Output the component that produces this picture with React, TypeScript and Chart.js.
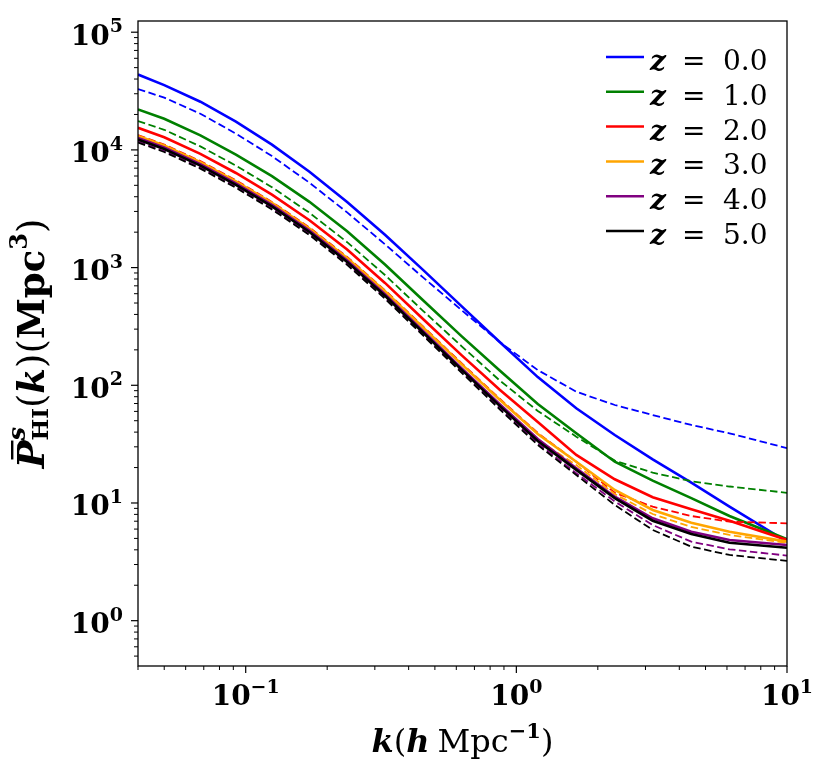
// HI redshift-space power spectrum, log-log, six redshifts (solid) + dashed counterparts
import { useEffect, useRef } from 'react';
import { Chart, registerables } from 'chart.js';

Chart.register(...registerables);

// k in h/Mpc
const kValues = [0.04, 0.05, 0.068, 0.092, 0.125, 0.172, 0.237, 0.327, 0.452, 0.627, 0.868, 1.2, 1.665, 2.31, 3.19, 4.43, 6.13, 10];

const redshifts = ['0.0', '1.0', '2.0', '3.0', '4.0', '5.0'];
const colors = ['#0000ff', '#008000', '#ff0000', '#ffa500', '#800080', '#000000'];

// P(k) in Mpc^3, solid lines
const pz0Solid = [43700, 35520, 25670, 17390, 11090, 6528, 3615, 1900, 956, 471, 233, 117.4, 63.8, 37.8, 23.5, 14.9, 9.3, 4.69];
const pz1Solid = [22100, 18380, 13280, 9120, 5976, 3622, 2038, 1062, 527.6, 261.8, 133.6, 69.4, 39.1, 22.4, 15.5, 11.0, 7.75, 4.92];
const pz2Solid = [15400, 12820, 9266, 6364, 4172, 2527, 1422, 741, 366, 180.5, 91.6, 48.8, 25.6, 15.9, 11.2, 8.84, 7.07, 4.85];
const pz3Solid = [13120, 10900, 7876, 5411, 3545, 2149, 1209, 630, 310, 151.4, 75.3, 38.6, 22.4, 12.9, 8.72, 6.8, 5.7, 4.69];
const pz4Solid = [12620, 10480, 7574, 5203, 3409, 2066, 1151, 594, 289.5, 140, 68.95, 35.0, 19.7, 11.3, 7.41, 5.7, 4.85, 4.4];
const pz5Solid = [12250, 10180, 7355, 5053, 3310, 2007, 1118, 576.9, 281.1, 135.9, 66.9, 33.65, 19.1, 11.0, 7.07, 5.45, 4.6, 4.17];

// dashed lines
const pz0Dashed = [32900, 27820, 20300, 13750, 8860, 5264, 2944, 1578, 825, 435.5, 233, 134.6, 88.2, 68.0, 55.9, 46.0, 39.1, 29.2];
const pz1Dashed = [17600, 14820, 10710, 7355, 4822, 2922, 1644, 865, 429.5, 215.3, 109.9, 60.5, 36.6, 22.9, 18.1, 15.3, 13.8, 12.2];
const pz2Dashed = [13380, 11110, 8030, 5520, 3615, 2191, 1233, 642, 316, 154.4, 76.8, 39.3, 22.4, 12.2, 9.3, 7.75, 6.94, 6.72];
const pz3Dashed = [12370, 10280, 7428, 5103, 3343, 2027, 1129, 582.6, 283.9, 137.3, 67.6, 34.3, 21.0, 11.9, 8.06, 6.25, 5.35, 4.57];
const pz4Dashed = [11780, 9786, 7071, 4858, 3183, 1929, 1075, 554.7, 270.3, 130.7, 64.0, 32.2, 17.9, 10.3, 6.5, 4.69, 4.04, 3.57];
const pz5Dashed = [11550, 9596, 6934, 4764, 3121, 1892, 1054, 543.9, 265.1, 128.2, 62.5, 31.1, 17.3, 9.62, 5.9, 4.25, 3.62, 3.22];

const solidSeries = [pz0Solid, pz1Solid, pz2Solid, pz3Solid, pz4Solid, pz5Solid];
const dashedSeries = [pz0Dashed, pz1Dashed, pz2Dashed, pz3Dashed, pz4Dashed, pz5Dashed];

// decade tick exponents
const xMajorExponents = [-1, 0, 1];
const yMajorExponents = [0, 1, 2, 3, 4, 5];
const minorMultipliers = [2, 3, 4, 5, 6, 7, 8, 9];

const SERIF = '"DejaVu Serif", serif';
const font = (style: string, size: number) => `${style} ${size}px ${SERIF}`;

type Piece = {
  text: string;
  font: string;
  rise?: number;
  under?: { text: string; font: string; drop: number };
  bar?: number; // height of an overbar above the baseline
  pad?: number;
};

function pieceWidth(ctx: CanvasRenderingContext2D, p: Piece) {
  ctx.font = p.font;
  let w = ctx.measureText(p.text).width;
  if (p.under) {
    ctx.font = p.under.font;
    w = Math.max(w, ctx.measureText(p.under.text).width);
  }
  return w + (p.pad ?? 0);
}

function drawPieces(ctx: CanvasRenderingContext2D, pieces: Piece[], x: number, y: number, align: 'left' | 'center' | 'right') {
  const total = pieces.reduce((s, p) => s + pieceWidth(ctx, p), 0);
  let cx = align === 'left' ? x : align === 'right' ? x - total : x - total / 2;
  ctx.textAlign = 'left';
  ctx.textBaseline = 'alphabetic';
  for (const p of pieces) {
    const w = pieceWidth(ctx, p);
    ctx.font = p.font;
    ctx.fillText(p.text, cx, y - (p.rise ?? 0));
    if (p.bar) {
      const tw = ctx.measureText(p.text).width;
      ctx.fillRect(cx + tw * 0.32, y - p.bar, tw * 0.68, 2.4);
    }
    if (p.under) {
      ctx.font = p.under.font;
      ctx.fillText(p.under.text, cx, y + p.under.drop);
    }
    cx += w;
  }
}

function powerLabel(exp: number): Piece[] {
  return [
    { text: '10', font: font('bold', 28) },
    { text: exp < 0 ? '\u2212' + Math.abs(exp) : String(exp), font: font('bold', 19), rise: 12.5 },
  ];
}

const texAxes = {
  id: 'texAxes',
  afterDraw(chart: Chart) {
    const { ctx, chartArea: a } = chart;
    const xs = chart.scales.x;
    const ys = chart.scales.y;
    ctx.save();
    ctx.fillStyle = '#000';
    ctx.strokeStyle = '#000';

    // frame
    ctx.lineWidth = 1.3;
    ctx.strokeRect(a.left, a.top, a.right - a.left, a.bottom - a.top);

    const tick = (x1: number, y1: number, x2: number, y2: number, w: number) => {
      ctx.lineWidth = w;
      ctx.beginPath();
      ctx.moveTo(x1, y1);
      ctx.lineTo(x2, y2);
      ctx.stroke();
    };

    // x ticks
    for (let e = -2; e <= 1; e++) {
      const major = Math.pow(10, e);
      if (major >= xs.min && major <= xs.max) {
        const px = xs.getPixelForValue(major);
        tick(px, a.bottom, px, a.bottom + 7, 1.2);
      }
      for (const m of minorMultipliers) {
        const v = m * major;
        if (v < xs.min - 1e-9 || v > xs.max) continue;
        const px = xs.getPixelForValue(v);
        tick(px, a.bottom, px, a.bottom + 4, 1);
      }
    }
    // y ticks
    for (let e = -1; e <= 5; e++) {
      const major = Math.pow(10, e);
      if (major >= ys.min && major <= ys.max) {
        const py = ys.getPixelForValue(major);
        tick(a.left - 7, py, a.left, py, 1.2);
      }
      for (const m of minorMultipliers) {
        const v = m * major;
        if (v < ys.min || v > ys.max) continue;
        const py = ys.getPixelForValue(v);
        tick(a.left - 4, py, a.left, py, 1);
      }
    }

    // tick labels
    for (const e of xMajorExponents) {
      const px = xs.getPixelForValue(Math.pow(10, e));
      drawPieces(ctx, powerLabel(e), px, a.bottom + 39, 'center');
    }
    for (const e of yMajorExponents) {
      const py = ys.getPixelForValue(Math.pow(10, e));
      drawPieces(ctx, powerLabel(e), a.left - 15, py + 12.5, 'right');
    }

    // x title
    drawPieces(
      ctx,
      [
        { text: 'k', font: font('bold italic', 32) },
        { text: '(', font: font('', 32) },
        { text: 'h', font: font('bold italic', 32), pad: 8 },
        { text: 'Mpc', font: font('', 32) },
        { text: '\u22121', font: font('bold', 21), rise: 14 },
        { text: ')', font: font('', 32) },
      ],
      (a.left + a.right) / 2,
      a.bottom + 86,
      'center'
    );

    // y title
    ctx.save();
    ctx.translate(44, (a.top + a.bottom) / 2);
    ctx.rotate(-Math.PI / 2);
    drawPieces(
      ctx,
      [
        { text: 'P', font: font('bold italic', 37), bar: 33 },
        { text: 's', font: font('bold italic', 24), rise: 19, under: { text: 'HI', font: font('bold', 23), drop: 4 } },
        { text: '(', font: font('', 37) },
        { text: 'k', font: font('bold italic', 37) },
        { text: ')', font: font('', 37) },
        { text: '(', font: font('', 37) },
        { text: 'Mpc', font: font('bold', 37) },
        { text: '3', font: font('bold', 24), rise: 17 },
        { text: ')', font: font('', 37) },
      ],
      0,
      0,
      'center'
    );
    ctx.restore();

    // legend (solid series only)
    const legendX = a.right - 181;
    const legendY = a.top + 36;
    redshifts.forEach((z, i) => {
      const y = legendY + i * 34.8;
      ctx.strokeStyle = colors[i];
      ctx.lineWidth = 2.5;
      ctx.setLineDash([]);
      ctx.beginPath();
      ctx.moveTo(legendX, y);
      ctx.lineTo(legendX + 38, y);
      ctx.stroke();
      ctx.fillStyle = '#000';
      ctx.font = font('bold italic', 28);
      ctx.fillText('z', legendX + 44, y + 13);
      ctx.font = font('', 28);
      ctx.fillText('=', legendX + 76, y + 13);
      ctx.fillText(z, legendX + 117, y + 13);
    });

    ctx.restore();
  },
};

export default function App() {
  const canvasRef = useRef<HTMLCanvasElement>(null);

  useEffect(() => {
    document.body.style.margin = '0';
    if (!canvasRef.current) return;

    const datasets: any[] = [];
    redshifts.forEach((z, i) => {
      datasets.push({
        label: `z = ${z}`,
        data: kValues.map((k, j) => ({ x: k, y: solidSeries[i][j] })),
        borderColor: colors[i],
        borderWidth: 2.6,
        order: -(2 * i),
      });
      datasets.push({
        label: `z = ${z} (dashed)`,
        data: kValues.map((k, j) => ({ x: k, y: dashedSeries[i][j] })),
        borderColor: colors[i],
        borderWidth: 1.8,
        borderDash: [7.5, 3.5],
        order: -(2 * i + 1),
      });
    });

    const chart = new Chart(canvasRef.current, {
      type: 'line',
      data: { datasets },
      options: {
        animation: false,
        responsive: true,
        maintainAspectRatio: false,
        layout: { padding: { top: 21, right: 44, left: 0, bottom: 0 } },
        elements: { point: { radius: 0 }, line: { tension: 0 } },
        plugins: { legend: { display: false }, tooltip: { enabled: false } },
        scales: {
          x: {
            type: 'logarithmic',
            min: 0.04,
            max: 10,
            ticks: { display: false },
            grid: { display: false },
            border: { display: false },
            afterFit: (s: any) => { s.height = 111; },
          },
          y: {
            type: 'logarithmic',
            min: 0.412,
            max: 124500,
            ticks: { display: false },
            grid: { display: false },
            border: { display: false },
            afterFit: (s: any) => { s.width = 138; },
          },
        },
      },
      plugins: [texAxes],
    });

    return () => chart.destroy();
  }, []);

  return (
    <div style={{ width: 831, height: 777, position: 'relative', background: '#fff' }}>
      <canvas ref={canvasRef}></canvas>
    </div>
  );
}
